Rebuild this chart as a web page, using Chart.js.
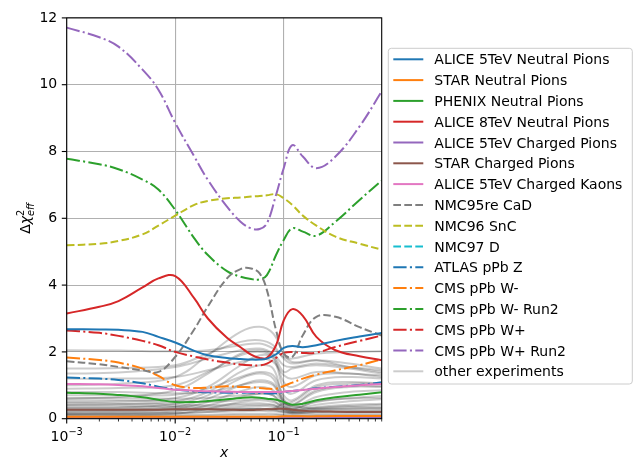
<!DOCTYPE html>
<html>
<head>
<meta charset="utf-8">
<script src="https://cdn.jsdelivr.net/npm/chart.js@4.4.0/dist/chart.umd.min.js"></script>
<style>
  html, body { margin: 0; padding: 0; background: #fff; }
  #chart { display: block; }
</style>
</head>
<body>
<canvas id="chart" width="638" height="461" style="width:638px;height:461px"></canvas>
<script>
// x grid shared by the named curves
const xMain = [0.001, 0.002, 0.003, 0.005, 0.007, 0.01, 0.015, 0.02, 0.03, 0.04, 0.05,
               0.06, 0.07, 0.085, 0.1, 0.12, 0.15, 0.2, 0.3, 0.5, 0.8];

const alice5Neutral = [2.68, 2.67, 2.66, 2.6, 2.45, 2.28, 2.03, 1.9, 1.82, 1.79, 1.77, 1.77, 1.8, 1.93, 2.12, 2.18, 2.14, 2.2, 2.33, 2.46, 2.57];
const starNeutral   = [0.06, 0.06, 0.06, 0.06, 0.06, 0.06, 0.06, 0.06, 0.06, 0.06, 0.06, 0.06, 0.06, 0.06, 0.07, 0.07, 0.07, 0.07, 0.08, 0.08, 0.08];
const phenixNeutral = [0.78, 0.75, 0.71, 0.64, 0.57, 0.5, 0.5, 0.53, 0.58, 0.62, 0.64, 0.63, 0.6, 0.57, 0.5, 0.42, 0.45, 0.55, 0.64, 0.72, 0.79];
const alice8Neutral = [3.15, 3.35, 3.52, 3.93, 4.2, 4.27, 3.6, 3.0, 2.42, 2.14, 1.92, 1.82, 1.82, 2.2, 2.94, 3.28, 3.08, 2.45, 2.05, 1.87, 1.75];
const alice5ChPions = [0.03, 0.03, 0.03, 0.03, 0.03, 0.03, 0.03, 0.03, 0.03, 0.03, 0.03, 0.03, 0.03, 0.03, 0.03, 0.03, 0.03, 0.03, 0.03, 0.03, 0.03];
const starChPions   = [0.27, 0.27, 0.27, 0.27, 0.27, 0.28, 0.28, 0.28, 0.27, 0.26, 0.26, 0.27, 0.28, 0.29, 0.3, 0.27, 0.24, 0.22, 0.21, 0.2, 0.2];
const alice5Kaons   = [1.04, 1.03, 1.01, 0.97, 0.92, 0.87, 0.84, 0.82, 0.81, 0.8, 0.8, 0.8, 0.8, 0.8, 0.81, 0.83, 0.86, 0.9, 0.95, 1.0, 1.04];
const nmc95CaD      = [1.72, 1.63, 1.55, 1.45, 1.4, 1.85, 2.68, 3.36, 4.2, 4.48, 4.5, 4.35, 3.85, 2.65, 1.95, 1.85, 2.5, 3.05, 3.05, 2.74, 2.49];
const nmc96SnC      = [5.19, 5.24, 5.32, 5.52, 5.78, 6.08, 6.4, 6.52, 6.6, 6.62, 6.65, 6.67, 6.69, 6.72, 6.6, 6.4, 6.08, 5.78, 5.45, 5.24, 5.06];
const nmc97D        = [0.02, 0.02, 0.02, 0.02, 0.02, 0.02, 0.02, 0.02, 0.02, 0.02, 0.02, 0.02, 0.02, 0.02, 0.02, 0.02, 0.02, 0.02, 0.02, 0.02, 0.02];
const atlasZ        = [1.23, 1.2, 1.16, 1.06, 0.96, 0.88, 0.82, 0.79, 0.78, 0.78, 0.78, 0.77, 0.76, 0.76, 0.8, 0.83, 0.86, 0.91, 0.96, 1.01, 1.09];
const cmsWm         = [1.83, 1.76, 1.68, 1.5, 1.28, 1.0, 0.92, 0.93, 0.97, 0.95, 0.94, 0.92, 0.9, 0.9, 0.98, 1.08, 1.2, 1.32, 1.45, 1.6, 1.78];
const cmsWmRun2     = [7.78, 7.62, 7.47, 7.16, 6.86, 6.25, 5.4, 4.9, 4.42, 4.25, 4.18, 4.17, 4.3, 4.9, 5.35, 5.7, 5.6, 5.48, 5.9, 6.55, 7.13];
const cmsWp         = [2.64, 2.57, 2.48, 2.33, 2.2, 2.0, 1.86, 1.77, 1.68, 1.62, 1.6, 1.6, 1.65, 1.82, 1.97, 2.0, 1.97, 1.98, 2.15, 2.33, 2.49];
const cmsWpRun2     = [11.71, 11.42, 11.14, 10.45, 9.85, 8.86, 7.85, 7.15, 6.35, 5.9, 5.7, 5.68, 5.85, 6.7, 7.5, 8.19, 7.85, 7.5, 7.85, 8.75, 9.8];

// coarser grid for the grey "other experiments" curves
const xOther = [0.001, 0.003, 0.01, 0.02, 0.04, 0.06, 0.08, 0.1, 0.12, 0.2, 0.4, 0.8];
const otherCurves = [
  [2.05, 2.04, 2.02, 2.05, 2.2, 2.25, 2.1, 1.85, 1.8, 1.95, 2.0, 2.02],
  [1.0, 1.05, 1.25, 1.9, 2.6, 2.75, 2.55, 1.95, 1.7, 1.75, 1.55, 1.4],
  [1.5, 1.52, 1.6, 1.95, 2.3, 2.35, 2.2, 1.8, 1.65, 1.75, 1.65, 1.5],
  [0.6, 0.65, 0.85, 1.35, 1.95, 2.05, 1.9, 1.4, 1.5, 1.6, 1.5, 1.35],
  [0.5, 0.52, 0.62, 0.95, 1.6, 1.9, 1.8, 0.9, 0.75, 1.15, 1.25, 1.2],
  [0.42, 0.44, 0.52, 0.8, 1.4, 1.6, 1.5, 0.6, 0.5, 0.95, 1.05, 1.05],
  [0.32, 0.33, 0.45, 0.7, 1.2, 1.35, 1.2, 0.5, 0.4, 0.8, 0.95, 0.95],
  [0.26, 0.27, 0.36, 0.6, 1.0, 1.15, 1.05, 0.55, 0.35, 0.65, 0.8, 0.85],
  [0.2, 0.22, 0.3, 0.5, 0.82, 0.95, 0.85, 0.45, 0.3, 0.52, 0.62, 0.68],
  [0.15, 0.16, 0.22, 0.4, 0.65, 0.75, 0.7, 0.4, 0.28, 0.42, 0.52, 0.58],
  [0.1, 0.1, 0.15, 0.3, 0.5, 0.55, 0.5, 0.35, 0.25, 0.32, 0.38, 0.42],
  [0.55, 0.55, 0.52, 0.5, 0.55, 0.6, 0.55, 0.3, 0.22, 0.3, 0.35, 0.36],
  [0.46, 0.46, 0.43, 0.4, 0.45, 0.46, 0.42, 0.26, 0.2, 0.26, 0.3, 0.3],
  [0.36, 0.36, 0.34, 0.3, 0.3, 0.3, 0.26, 0.2, 0.16, 0.2, 0.2, 0.2],
  [0.12, 0.12, 0.12, 0.12, 0.15, 0.15, 0.15, 0.12, 0.1, 0.1, 0.1, 0.1],
  [0.07, 0.07, 0.08, 0.09, 0.1, 0.1, 0.1, 0.1, 0.08, 0.08, 0.08, 0.08],
  [1.35, 1.38, 1.55, 1.8, 2.05, 2.1, 1.95, 1.6, 1.55, 1.65, 1.55, 1.45],
  [0.9, 0.92, 1.0, 1.4, 1.9, 2.0, 1.85, 1.1, 0.95, 1.3, 1.35, 1.25],
  [0.7, 0.7, 0.72, 0.9, 1.25, 1.4, 1.3, 0.7, 0.55, 1.0, 1.1, 1.05],
  [0.8, 0.8, 0.76, 0.8, 1.0, 1.1, 1.0, 0.5, 0.42, 0.85, 0.98, 0.98],
  [0.62, 0.62, 0.6, 0.62, 0.7, 0.75, 0.7, 0.35, 0.3, 0.5, 0.6, 0.62],
  [1.2, 1.2, 1.25, 1.45, 1.7, 1.8, 1.7, 1.3, 1.2, 1.4, 1.35, 1.3],
  [0.24, 0.24, 0.25, 0.28, 0.35, 0.38, 0.35, 0.25, 0.2, 0.22, 0.24, 0.25],
  [0.18, 0.18, 0.18, 0.2, 0.22, 0.24, 0.22, 0.18, 0.15, 0.15, 0.15, 0.15],
  [0.3, 0.3, 0.28, 0.26, 0.28, 0.3, 0.3, 0.45, 0.38, 0.3, 0.3, 0.32],
  [0.4, 0.4, 0.38, 0.36, 0.4, 0.42, 0.4, 0.3, 0.25, 0.35, 0.42, 0.45],
  [0.14, 0.14, 0.16, 0.2, 0.28, 0.3, 0.28, 0.22, 0.18, 0.2, 0.22, 0.22]
];

const yTicks = [0, 2, 4, 6, 8, 10, 12];

const FONT = 'DejaVu Sans';
const SOLID = [];
const DASHED = [7.7, 3.3];
const DASHDOT = [13.3, 3.3, 2.1, 3.3];
const OTHER_COLOR = 'rgba(0,0,0,0.2)';

// label, values, colour, dash
const named = [
  ['ALICE 5TeV Neutral Pions', alice5Neutral, '#1f77b4', SOLID],
  ['STAR Neutral Pions', starNeutral, '#ff7f0e', SOLID],
  ['PHENIX Neutral Pions', phenixNeutral, '#2ca02c', SOLID],
  ['ALICE 8TeV Neutral Pions', alice8Neutral, '#d62728', SOLID],
  ['ALICE 5TeV Charged Pions', alice5ChPions, '#9467bd', SOLID],
  ['STAR Charged Pions', starChPions, '#8c564b', SOLID],
  ['ALICE 5TeV Charged Kaons', alice5Kaons, '#e377c2', SOLID],
  ['NMC95re CaD', nmc95CaD, '#7f7f7f', DASHED],
  ['NMC96 SnC', nmc96SnC, '#bcbd22', DASHED],
  ['NMC97 D', nmc97D, '#17becf', DASHED],
  ['ATLAS pPb Z', atlasZ, '#1f77b4', DASHDOT],
  ['CMS pPb W-', cmsWm, '#ff7f0e', DASHDOT],
  ['CMS pPb W- Run2', cmsWmRun2, '#2ca02c', DASHDOT],
  ['CMS pPb W+', cmsWp, '#d62728', DASHDOT],
  ['CMS pPb W+ Run2', cmsWpRun2, '#9467bd', DASHDOT]
];

const toPoints = (xs, ys) => xs.map((x, i) => ({ x: x, y: ys[i] }));

// named curves first so they sit on top of the grey ones
const datasets = named.map(([label, vals, color, dash]) => ({
  label: label,
  data: toPoints(xMain, vals),
  borderColor: color,
  borderDash: dash,
  borderWidth: 2
}));
otherCurves.forEach((vals, i) => {
  datasets.push({
    label: i === 0 ? 'other experiments' : '',
    data: toPoints(xOther, vals),
    borderColor: OTHER_COLOR,
    borderWidth: 2
  });
});

const legendItems = named.map(([label, , color, dash]) => ({ label, color, dash }));
legendItems.push({ label: 'other experiments', color: OTHER_COLOR, dash: SOLID });

function isMajor(v) {
  const l = Math.log10(v);
  return Math.abs(l - Math.round(l)) < 1e-6;
}

// frame, tick marks, math-style labels and the legend box
const decor = {
  id: 'decor',
  afterDraw(chart) {
    const c = chart.ctx;
    const a = chart.chartArea;
    const xs = chart.scales.x;
    const ys = chart.scales.y;
    c.save();
    c.strokeStyle = '#000';
    c.fillStyle = '#000';
    c.lineWidth = 1.1;
    c.strokeRect(a.left, a.top, a.right - a.left, a.bottom - a.top);

    // x ticks + labels like 10^-3
    xs.ticks.forEach(t => {
      if (t.value < 0.001 - 1e-12 || t.value > 0.8 + 1e-9) return;
      const px = xs.getPixelForValue(t.value);
      const major = isMajor(t.value);
      c.lineWidth = major ? 1.1 : 0.8;
      c.beginPath();
      c.moveTo(px, a.bottom);
      c.lineTo(px, a.bottom + (major ? 4.9 : 2.8));
      c.stroke();
      if (major) {
        const e = Math.round(Math.log10(t.value));
        const base = '10';
        const sup = '\u2212' + Math.abs(e);
        c.font = '14px "' + FONT + '"';
        const wb = c.measureText(base).width;
        c.font = '9.8px "' + FONT + '"';
        const ws = c.measureText(sup).width;
        const x0 = px - (wb + ws) / 2;
        c.textAlign = 'left';
        c.textBaseline = 'alphabetic';
        c.font = '14px "' + FONT + '"';
        c.fillText(base, x0, 440.5);
        c.font = '9.8px "' + FONT + '"';
        c.fillText(sup, x0 + wb, 434.5);
      }
    });

    // y tick marks
    c.lineWidth = 1.1;
    ys.ticks.forEach(t => {
      const py = ys.getPixelForValue(t.value);
      c.beginPath();
      c.moveTo(a.left - 4.9, py);
      c.lineTo(a.left, py);
      c.stroke();
    });

    // x axis title
    c.font = 'italic 14px "' + FONT + '"';
    c.textAlign = 'center';
    c.textBaseline = 'alphabetic';
    c.fillText('x', (a.left + a.right) / 2, 457);

    // y axis title: Δχ^2_eff
    c.save();
    c.translate(30, (a.top + a.bottom) / 2);
    c.rotate(-Math.PI / 2);
    c.font = '14px "' + FONT + '"';
    const wD = c.measureText('\u0394').width;
    c.font = 'italic 14px "' + FONT + '"';
    const wC = c.measureText('\u03c7').width;
    c.font = 'italic 9.8px "' + FONT + '"';
    const wE = c.measureText('eff').width;
    const total = wD + wC + wE;
    let x0 = -total / 2;
    c.textAlign = 'left';
    c.font = '14px "' + FONT + '"';
    c.fillText('\u0394', x0, 0);
    c.font = 'italic 14px "' + FONT + '"';
    c.fillText('\u03c7', x0 + wD, 0);
    c.font = '9.8px "' + FONT + '"';
    c.fillText('2', x0 + wD + wC, -6.5);
    c.font = 'italic 9.8px "' + FONT + '"';
    c.fillText('eff', x0 + wD + wC, 3.5);
    c.restore();

    // legend
    const L = { x: 388.3, y: 48.3, w: 244, h: 335.7 };
    c.beginPath();
    if (c.roundRect) c.roundRect(L.x, L.y, L.w, L.h, 3); else c.rect(L.x, L.y, L.w, L.h);
    c.fillStyle = 'rgba(255,255,255,0.8)';
    c.fill();
    c.strokeStyle = '#cccccc';
    c.lineWidth = 1;
    c.stroke();
    c.font = '14px "' + FONT + '"';
    c.textAlign = 'left';
    c.textBaseline = 'alphabetic';
    legendItems.forEach((it, i) => {
      const ry = 59.3 + i * 20.8;
      c.save();
      c.strokeStyle = it.color;
      c.lineWidth = 2;
      c.setLineDash(it.dash);
      c.beginPath();
      c.moveTo(393.3, ry);
      c.lineTo(423.3, ry);
      c.stroke();
      c.restore();
      c.fillStyle = '#000';
      c.fillText(it.label, 434.3, ry + 5.1);
    });
    c.restore();
  }
};

new Chart(document.getElementById('chart').getContext('2d'), {
  type: 'line',
  data: { datasets: datasets },
  plugins: [decor],
  options: {
    responsive: false,
    animation: false,
    devicePixelRatio: 1,
    layout: { padding: { left: 0, top: 14, right: 256.3, bottom: 0 } },
    plugins: {
      legend: { display: false },
      tooltip: { enabled: false }
    },
    elements: {
      point: { radius: 0 },
      line: { tension: 0.4, fill: false, borderJoinStyle: 'round' }
    },
    scales: {
      x: {
        type: 'logarithmic',
        min: 0.001,
        max: 0.8,
        afterFit: s => { s.height = 42.3; },
        ticks: { display: false, autoSkip: false },
        grid: {
          color: ctx => (ctx.tick && isMajor(ctx.tick.value)) ? '#b0b0b0' : 'rgba(0,0,0,0)',
          lineWidth: 1.1,
          drawTicks: false
        },
        border: { display: false }
      },
      y: {
        type: 'linear',
        min: 0,
        max: 12,
        afterBuildTicks: s => { s.ticks = yTicks.map(v => ({ value: v })); },
        afterFit: s => { s.width = 66.7; },
        ticks: {
          padding: 9.5,
          color: '#000',
          font: { family: FONT, size: 14 }
        },
        grid: { color: '#b0b0b0', lineWidth: 1.1, drawTicks: false },
        border: { display: false }
      }
    }
  }
});
</script>
</body>
</html>
